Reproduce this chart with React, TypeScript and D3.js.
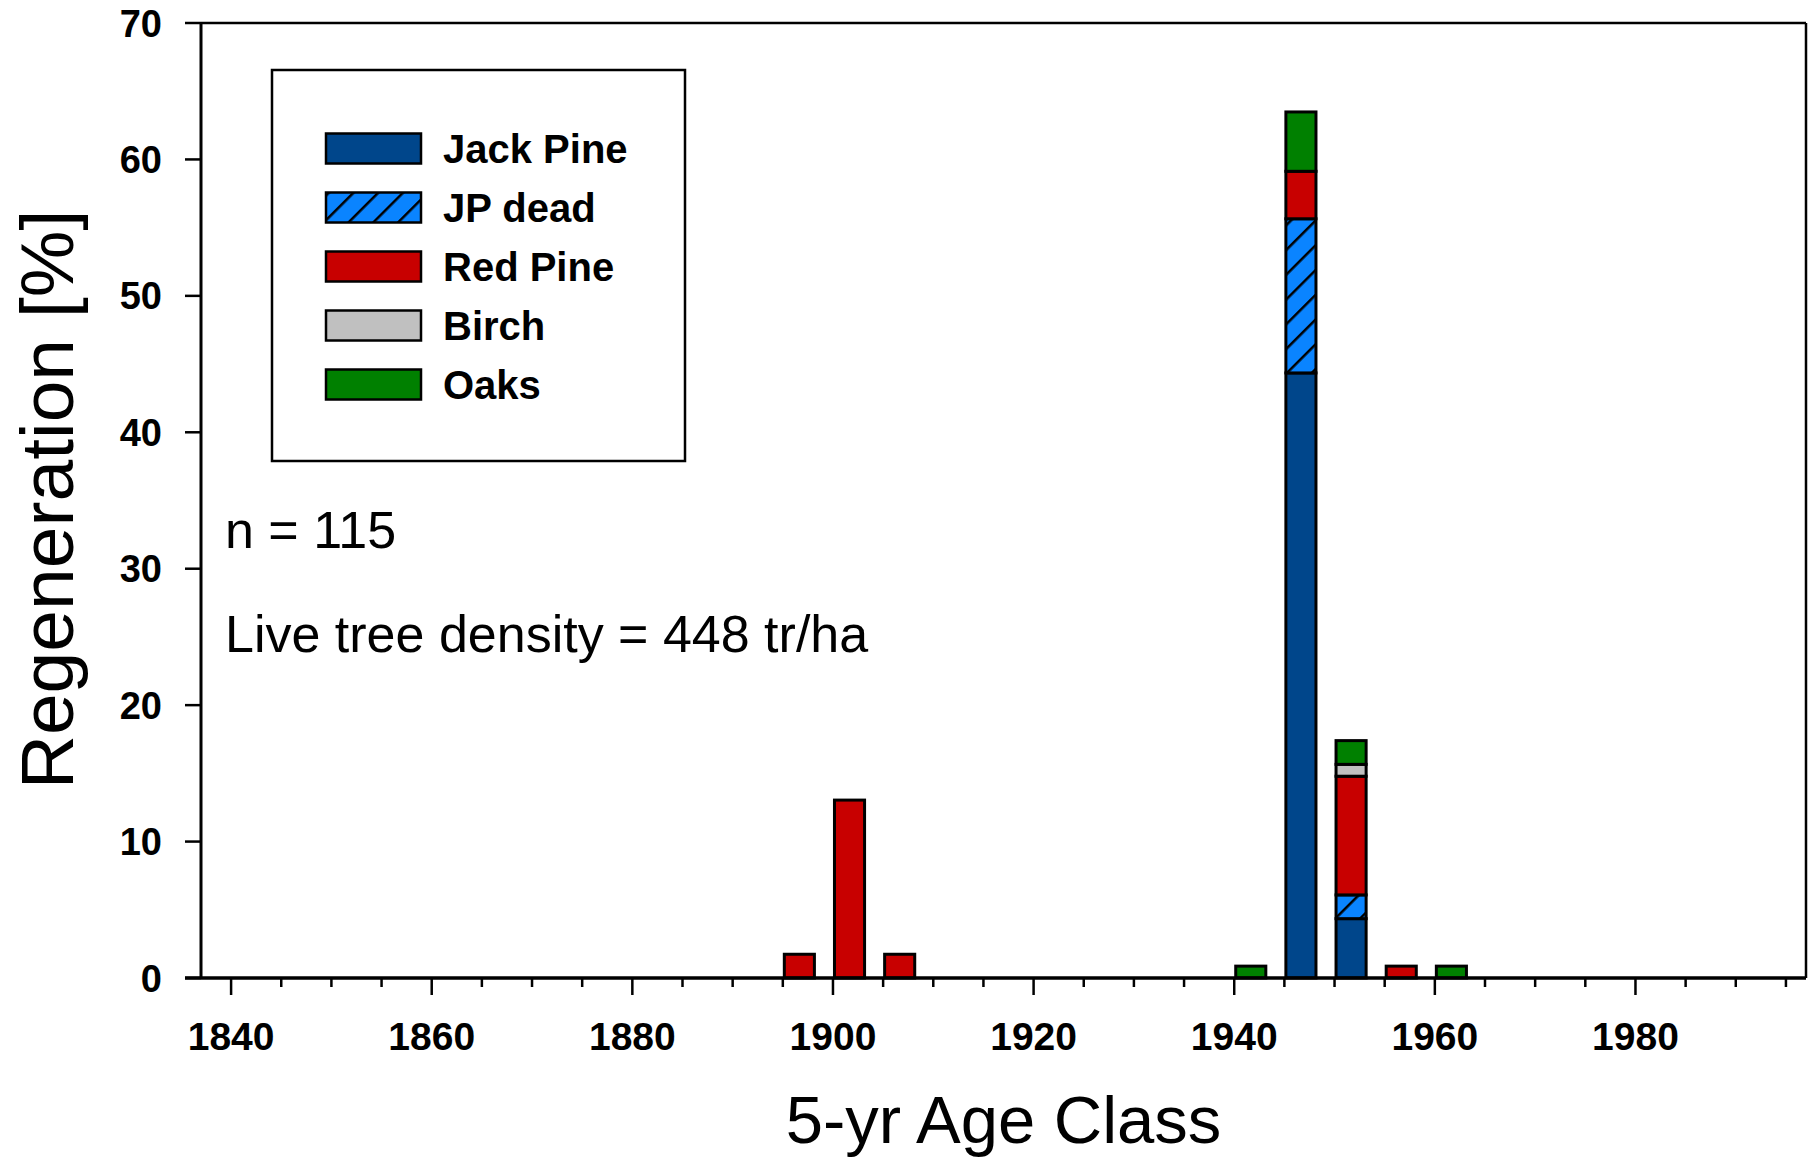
import React from 'react';
import * as d3 from 'd3';

// 5-yr age classes (start year of each class) and regeneration share in %
const ageClasses = [1895, 1900, 1905, 1940, 1945, 1950, 1955, 1960];
const jackPine = [0, 0, 0, 0, 44.35, 4.35, 0, 0];
const jpDead = [0, 0, 0, 0, 11.3, 1.74, 0, 0];
const redPine = [1.74, 13.04, 1.74, 0, 3.48, 8.7, 0.87, 0];
const birch = [0, 0, 0, 0, 0, 0.87, 0, 0];
const oaks = [0, 0, 0, 0.87, 4.35, 1.74, 0, 0.87];

const seriesNames = ['Jack Pine', 'JP dead', 'Red Pine', 'Birch', 'Oaks'];
const seriesColors = ['#00468B', '#0A84FF', '#C80000', '#C0C0C0', '#008000'];

const xTickLabels = [1840, 1860, 1880, 1900, 1920, 1940, 1960, 1980];
const yTickLabels = [0, 10, 20, 30, 40, 50, 60, 70];

const W = 1819;
const H = 1160;
const font = '"Liberation Sans", Arial, sans-serif';

const left = 201, right = 1806, top = 23, bottom = 978;

export default function App() {
    const x = d3.scaleLinear().domain([1837, 1997]).range([left, right]);
    const y = d3.scaleLinear().domain([0, 70]).range([bottom, top]);

    const rows = ageClasses.map((yr, i) => ({
        year: yr,
        'Jack Pine': jackPine[i],
        'JP dead': jpDead[i],
        'Red Pine': redPine[i],
        'Birch': birch[i],
        'Oaks': oaks[i],
    }));
    const stacked = d3.stack<any>().keys(seriesNames)(rows);

    const fillFor = (k: number) => (k === 1 ? 'url(#hatch)' : seriesColors[k]);

    const minorTicks = d3.range(1840, 1996, 5);

    return (
        <svg width={W} height={H} style={{ position: 'absolute', left: 0, top: 0, background: '#fff' }}
            fontFamily={font}>
            <defs>
                <pattern id="hatch" patternUnits="userSpaceOnUse" width={17.5} height={17.5}
                    patternTransform="rotate(45)">
                    <rect width={17.5} height={17.5} fill={seriesColors[1]} />
                    <line x1={0} y1={0} x2={0} y2={17.5} stroke="#000" strokeWidth={5} />
                </pattern>
            </defs>

            {/* frame */}
            <line x1={left} x2={right} y1={top} y2={top} stroke="#000" strokeWidth={2.5} />
            <line x1={right} x2={right} y1={top} y2={bottom} stroke="#000" strokeWidth={2.5} />

            {/* bars */}
            {stacked.map((layer, k) => (
                <g key={layer.key}>
                    {layer.map((d, i) => {
                        if (d[1] - d[0] <= 0) return null;
                        const yr = ageClasses[i] + 0.15;
                        return (
                            <rect key={yr}
                                x={x(yr)} width={x(yr + 3) - x(yr)}
                                y={y(d[1])} height={y(d[0]) - y(d[1])}
                                fill={fillFor(k)} stroke="#000" strokeWidth={3} />
                        );
                    })}
                </g>
            ))}

            {/* y axis */}
            <line x1={left} x2={left} y1={top} y2={bottom} stroke="#000" strokeWidth={3} />
            {yTickLabels.map(t => (
                <g key={t}>
                    <line x1={left - 16} x2={left} y1={y(t)} y2={y(t)} stroke="#000" strokeWidth={2.5} />
                    <text x={162} y={y(t) + 13.5} textAnchor="end" fontSize={38} fontWeight="bold">{t}</text>
                </g>
            ))}

            {/* x axis */}
            <line x1={left - 16} x2={right} y1={bottom} y2={bottom} stroke="#000" strokeWidth={3.5} />
            {minorTicks.map(t => (
                <line key={t} x1={x(t)} x2={x(t)} y1={bottom}
                    y2={bottom + (t % 20 === 0 ? 17 : 9)} stroke="#000" strokeWidth={2.5} />
            ))}
            {xTickLabels.map(t => (
                <text key={t} x={x(t)} y={1050} textAnchor="middle" fontSize={39} fontWeight="bold">{t}</text>
            ))}

            {/* axis titles */}
            <text x={(left + right) / 2} y={1143} textAnchor="middle" fontSize={67}>5-yr Age Class</text>
            <text transform={`translate(73,${(top + bottom) / 2 - 1}) rotate(-90)`} textAnchor="middle"
                fontSize={75}>Regeneration [%]</text>

            {/* legend */}
            <rect x={272} y={70} width={413} height={391} fill="#fff" stroke="#000" strokeWidth={2.5} />
            {seriesNames.map((name, k) => {
                const cy = 148.5 + k * 59;
                return (
                    <g key={name}>
                        <rect x={326} y={cy - 15} width={95} height={30} fill={fillFor(k)}
                            stroke="#000" strokeWidth={2.5} />
                        <text x={443} y={cy + 14} fontSize={40} fontWeight="bold">{name}</text>
                    </g>
                );
            })}

            {/* annotations */}
            <text x={225} y={548} fontSize={52}>n = 115</text>
            <text x={225} y={652} fontSize={52}>Live tree density = 448 tr/ha</text>
        </svg>
    );
}
